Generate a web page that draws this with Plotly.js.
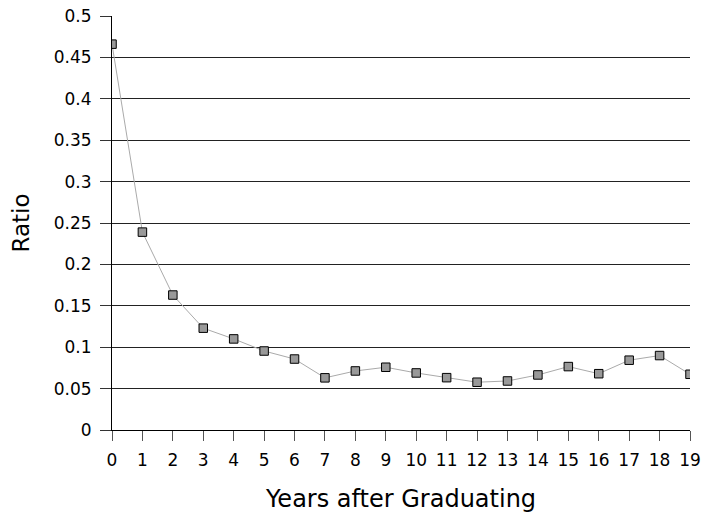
<!DOCTYPE html>
<html>
<head>
<meta charset="utf-8">
<script src="https://cdn.plot.ly/plotly-3.0.1.min.js"></script>
<style>html,body{margin:0;padding:0;background:#fff;}#chart{width:702px;height:515px;}</style>
</head>
<body>
<div id="chart"></div>
<script>
var years = [0,1,2,3,4,5,6,7,8,9,10,11,12,13,14,15,16,17,18,19];
var ratio = [0.466,0.239,0.163,0.123,0.110,0.0954,0.0857,0.0630,0.0713,0.0758,0.0689,0.0632,0.0577,0.0592,0.0665,0.0766,0.0680,0.0843,0.0899,0.0673];
var yTickVals = [0,0.05,0.1,0.15,0.2,0.25,0.3,0.35,0.4,0.45,0.5];
var yTickText = ['0','0.05','0.1','0.15','0.2','0.25','0.3','0.35','0.4','0.45','0.5'];

var trace = {
  x: years, y: ratio, type: 'scatter', mode: 'lines+markers',
  line: {color: '#aaaaaa', width: 1},
  marker: {symbol: 'square', size: 8.5, color: '#999999', line: {color: '#000000', width: 1}},
  hoverinfo: 'none', showlegend: false
};

var layout = {
  width: 702, height: 515,
  margin: {l: 112, r: 12, t: 16, b: 85},
  paper_bgcolor: '#fff', plot_bgcolor: '#fff',
  font: {family: 'DejaVu Sans, sans-serif', size: 17, color: '#000'},
  xaxis: {
    range: [0, 19], tickmode: 'array', tickvals: years, ticktext: years.map(String),
    showgrid: false, zeroline: false, showline: true, linecolor: '#000', linewidth: 1,
    ticks: 'outside', ticklen: 10, tickcolor: '#555', tickwidth: 1,
    ticklabelstandoff: 5,
    tickfont: {size: 17},
    title: {text: 'Years after Graduating', font: {size: 24}, standoff: 20}
  },
  yaxis: {
    range: [0, 0.5], tickmode: 'array', tickvals: yTickVals, ticktext: yTickText,
    showgrid: true, gridcolor: '#222', gridwidth: 1, zeroline: false,
    showline: true, linecolor: '#000', linewidth: 1,
    ticks: 'outside', ticklen: 11, tickcolor: '#333', tickwidth: 1,
    ticklabelstandoff: 5,
    tickfont: {size: 17},
    title: {text: 'Ratio', font: {size: 23}, standoff: 17}
  }
};
Plotly.newPlot('chart', [trace], layout, {displayModeBar: false, staticPlot: true});
</script>
</body>
</html>
